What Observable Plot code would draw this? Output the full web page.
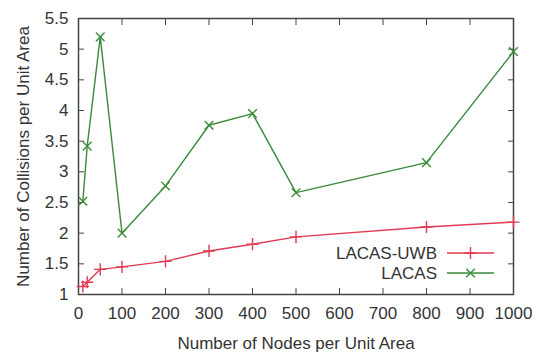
<!DOCTYPE html>
<html>
<head>
<meta charset="utf-8">
<script src="https://cdn.jsdelivr.net/npm/d3@7"></script>
<script src="https://cdn.jsdelivr.net/npm/@observablehq/plot@0.6"></script>
<style>
  html, body { margin: 0; padding: 0; background: #fff; }
  svg { font-family: "Liberation Sans", Arial, sans-serif; }
</style>
</head>
<body>
<div id="chart"></div>
<script>
// Node density (nodes per unit area)
const nodes = [10, 20, 50, 100, 200, 300, 400, 500, 800, 1000];
// Collisions per unit area for each protocol
const lacasUwb = [1.13, 1.2, 1.41, 1.45, 1.54, 1.71, 1.82, 1.94, 2.1, 2.18];
const lacas = [2.52, 3.42, 5.2, 2.0, 2.77, 3.76, 3.95, 2.66, 3.15, 4.96];

const seriesNames = ["LACAS-UWB", "LACAS"];
const seriesColors = ["#e23a52", "#3a8a3a"];
const seriesSymbols = ["plus", "times"];

const xTicks = d3.range(0, 1001, 100);
const yTicks = d3.range(1, 5.51, 0.5);

const rows = [
  ...nodes.map((n, i) => ({series: seriesNames[0], n, v: lacasUwb[i]})),
  ...nodes.map((n, i) => ({series: seriesNames[1], n, v: lacas[i]}))
];

const colorOf = s => seriesColors[seriesNames.indexOf(s)];

const chart = Plot.plot({
  width: 536,
  height: 354,
  marginLeft: 78,
  marginRight: 23,
  marginTop: 18,
  marginBottom: 60,
  style: {fontSize: "17px", fontFamily: "'Liberation Sans', Arial, sans-serif", color: "#333"},
  x: {domain: [0, 1000]},
  y: {domain: [1, 5.5]},
  marks: [
    // inward tick marks on all four sides
    Plot.axisX(xTicks, {anchor: "bottom", tickSize: -6, tickFormat: () => "", label: null, stroke: "#444"}),
    Plot.axisX(xTicks, {anchor: "top", tickSize: -6, tickFormat: () => "", label: null, stroke: "#444"}),
    Plot.axisY(yTicks, {anchor: "left", tickSize: -6, tickFormat: () => "", label: null, stroke: "#444"}),
    Plot.axisY(yTicks, {anchor: "right", tickSize: -6, tickFormat: () => "", label: null, stroke: "#444"}),
    // tick labels and titles
    Plot.axisX(xTicks, {anchor: "bottom", tickSize: 0, tickPadding: 12, fill: "#333",
      tickFormat: d => String(d),
      label: "Number of Nodes per Unit Area", labelAnchor: "center", labelOffset: 54, labelArrow: "none"}),
    Plot.axisY(yTicks, {anchor: "left", tickSize: 0, tickPadding: 10, fill: "#333",
      tickFormat: d => String(d),
      label: "Number of Collisions per Unit Area", labelAnchor: "center", labelOffset: 62, labelArrow: "none"}),
    Plot.frame({stroke: "#444", strokeWidth: 1.5}),
    Plot.line(rows, {x: "n", y: "v", z: "series", stroke: d => colorOf(d.series), strokeWidth: 1.4}),
    Plot.dot(rows, {x: "n", y: "v", stroke: d => colorOf(d.series),
      symbol: d => seriesSymbols[seriesNames.indexOf(d.series)], r: 4, strokeWidth: 1.4})
  ]
});

document.getElementById("chart").append(chart);

// Key in the lower-right corner of the plotting area
const svg = d3.select(chart);
const key = svg.append("g");
seriesNames.forEach((name, i) => {
  const y = 253 + i * 20;
  key.append("text").attr("x", 437).attr("y", y).attr("dy", "0.35em")
    .attr("text-anchor", "end").attr("fill", "#333").style("font-size", "17px").text(name);
  key.append("line").attr("x1", 447).attr("x2", 494).attr("y1", y).attr("y2", y)
    .attr("stroke", seriesColors[i]).attr("stroke-width", 1.4);
  key.append("path").attr("transform", `translate(470.5,${y})`)
    .attr("d", d3.symbol(i === 0 ? d3.symbolPlus : d3.symbolTimes, 50)())
    .attr("fill", "none").attr("stroke", seriesColors[i]).attr("stroke-width", 1.4);
});
</script>
</body>
</html>
